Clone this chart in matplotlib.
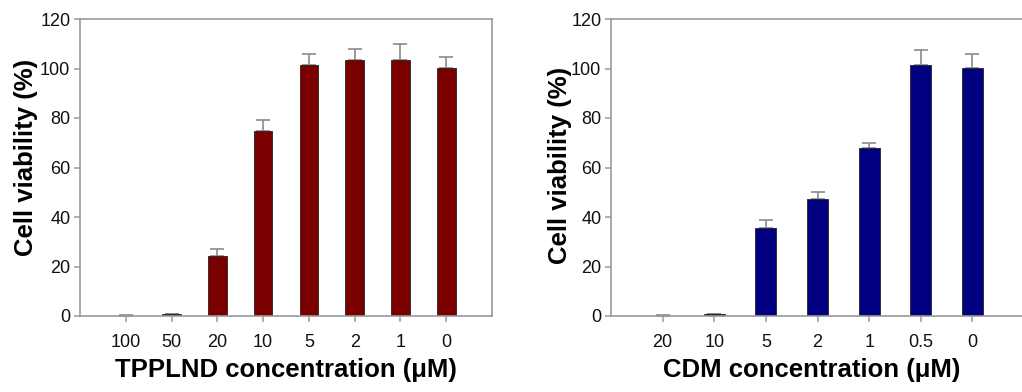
import matplotlib
matplotlib.use("Agg")
import matplotlib.pyplot as plt
import numpy as np

plt.rcParams['font.family'] = ['Liberation Sans', 'DejaVu Sans']

tpp_labels = ["100", "50", "20", "10", "5", "2", "1", "0"]
tpp_values = [0.2, 0.7, 24.3, 74.7, 101.3, 103.5, 103.5, 100.4]
tpp_errors = [0.2, 0.3, 2.7, 4.4, 4.6, 4.5, 6.4, 4.1]

cdm_labels = ["20", "10", "5", "2", "1", "0.5", "0"]
cdm_values = [0.2, 0.7, 35.5, 47.4, 67.8, 101.3, 100.4]
cdm_errors = [0.2, 0.3, 3.1, 2.6, 1.9, 6.1, 5.6]

W, H = 1022, 392
fig = plt.figure(figsize=(W / 100, H / 100), dpi=100)

spine_col = '#9a9a9a'

def panel(rect, labels, values, errors, color, xlabel, ylab_xy, xlab_xy):
    ax = fig.add_axes(rect)
    x = np.arange(len(labels))
    ax.bar(x, values, width=0.41, color=color, edgecolor='#222222', linewidth=0.6, zorder=2)
    ax.errorbar(x, values, yerr=[np.zeros(len(errors)), errors], fmt='none',
                ecolor='#8a8a8a', elinewidth=1.2, capsize=5, capthick=1.2, zorder=1)
    ax.set_xlim(-1, len(labels))
    ax.set_ylim(0, 120)
    ax.set_yticks([0, 20, 40, 60, 80, 100, 120])
    ax.set_xticks(x)
    ax.set_xticklabels(labels)
    for s in ax.spines.values():
        s.set_color(spine_col)
        s.set_linewidth(1.2)
    ax.tick_params(axis='both', colors=spine_col, labelcolor='#111111',
                   labelsize=13, length=4, width=1.1, direction='out')
    ax.tick_params(axis='x', pad=9)
    ax.tick_params(axis='y', pad=3)
    ax.set_xlabel(xlabel, fontsize=18.5, fontweight='bold')
    ax.set_ylabel("Cell viability (%)", fontsize=18.5, fontweight='bold')
    ax.yaxis.set_label_coords(*ylab_xy)
    ax.xaxis.set_label_coords(*xlab_xy)
    ax.xaxis.label.set_va('center')
    ax.yaxis.label.set_va('center')
    return ax

panel([80 / W, 1 - 316 / H, 412 / W, 297 / H], tpp_labels, tpp_values, tpp_errors,
      '#7a0000', "TPPLND concentration (\u03bcM)", (-0.131, 0.535), (0.50, -0.182))
panel([611 / W, 1 - 316 / H, 413 / W, 297 / H], cdm_labels, cdm_values, cdm_errors,
      '#000080', "CDM concentration (\u03bcM)", (-0.123, 0.508), (0.487, -0.182))

fig.savefig("out.png", dpi=100)
